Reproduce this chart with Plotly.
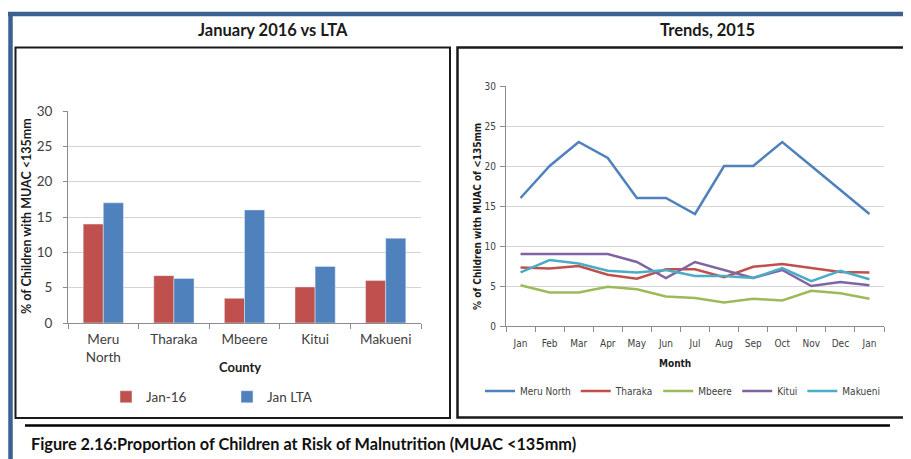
import plotly.graph_objects as go

# The page body has an 8px margin, so the figure is drawn 8px in from the
# top-left corner; reference pixel positions are converted accordingly.
OFF = 8
W, H = 911 - OFF, 459 - OFF

# ---------------- data ----------------
counties = ["Meru<br>North", "Tharaka", "Mbeere", "Kitui", "Makueni"]
jan16 = [14.0, 6.7, 3.5, 5.1, 6.0]
jan_lta = [17.0, 6.3, 16.0, 8.0, 12.0]

months = ["Jan", "Feb", "Mar", "Apr", "May", "Jun", "Jul", "Aug", "Sep", "Oct", "Nov", "Dec", "Jan"]
meru_north = [16, 20, 23, 21, 16, 16, 14, 20, 20, 23, 20, 17, 14]
tharaka = [7.3, 7.2, 7.5, 6.4, 5.9, 7.1, 7.1, 6.1, 7.4, 7.75, 7.25, 6.75, 6.7]
mbeere = [5.1, 4.2, 4.2, 4.9, 4.6, 3.7, 3.5, 2.95, 3.4, 3.2, 4.4, 4.1, 3.4]
kitui = [9, 9, 9, 9, 8, 6, 8, 7, 6, 7, 5, 5.5, 5.1]
makueni = [6.7, 8.25, 7.8, 6.9, 6.7, 7.0, 6.25, 6.25, 6.0, 7.25, 5.6, 6.9, 5.85]

y_ticks = [0, 5, 10, 15, 20, 25, 30]

# ---------------- helpers (window pixel -> paper) ----------------
def px(x):
    return (x - OFF) / W

def py(y):
    return 1 - (y - OFF) / H

FONT = "Lato, 'Open Sans', sans-serif"
NARROW = "'Liberation Sans Narrow', 'DejaVu Sans Condensed', 'Arial Narrow', sans-serif"
GRID = "#D4D4D4"
AXIS = "#8C8C8C"
TXT = "#404040"

RED = "#C0504D"
BLUE = "#4F81BD"
GREEN = "#9BBB59"
PURPLE = "#8064A2"
CYAN = "#4BACC6"

fig = go.Figure()

fig.add_trace(go.Bar(x=counties, y=jan16, name="Jan-16", marker_color=RED,
                     xaxis="x", yaxis="y", legend="legend"))
fig.add_trace(go.Bar(x=counties, y=jan_lta, name="Jan LTA", marker_color=BLUE,
                     xaxis="x", yaxis="y", legend="legend"))

xi = list(range(len(months)))
for name, vals, col in [("Meru North", meru_north, BLUE), ("Tharaka", tharaka, RED),
                        ("Mbeere", mbeere, GREEN), ("Kitui", kitui, PURPLE),
                        ("Makueni", makueni, CYAN)]:
    fig.add_trace(go.Scatter(x=xi, y=vals, name=name, mode="lines",
                             line=dict(color=col, width=2.5),
                             xaxis="x2", yaxis="y2", legend="legend2"))

shapes = [
    # blue page frame
    dict(type="line", xref="paper", yref="paper", x0=px(8), x1=px(915), y0=py(14), y1=py(14),
         line=dict(color="#3B6193", width=4.5)),
    dict(type="line", xref="paper", yref="paper", x0=px(10.5), x1=px(10.5), y0=py(12), y1=py(462),
         line=dict(color="#3B6193", width=4.5)),
    # chart boxes
    dict(type="rect", xref="paper", yref="paper", x0=px(15.5), x1=px(450), y0=py(47.5), y1=py(418),
         line=dict(color="#1A1A1A", width=2)),
    dict(type="rect", xref="paper", yref="paper", x0=px(457.5), x1=px(918), y0=py(47.5), y1=py(417.5),
         line=dict(color="#1A1A1A", width=2.5)),
    # caption rule
    dict(type="line", xref="paper", yref="paper", x0=px(25), x1=px(890), y0=py(425.5), y1=py(425.5),
         line=dict(color="#000000", width=2.5)),
]

annotations = [
    dict(text="<b>January 2016 vs LTA</b>", x=px(273), y=py(30), xref="paper", yref="paper",
         showarrow=False, font=dict(family=FONT, size=16.5, color="#1A1A1A"), xanchor="center", yanchor="middle"),
    dict(text="<b>Trends, 2015</b>", x=px(707), y=py(30), xref="paper", yref="paper",
         showarrow=False, font=dict(family=FONT, size=16.5, color="#1A1A1A"), xanchor="center", yanchor="middle"),
    dict(text="<b>% of Children with MUAC <135mm</b>", x=px(26), y=py(216), xref="paper", yref="paper",
         showarrow=False, textangle=-90, font=dict(family=FONT, size=12.5, color="#1A1A1A"),
         xanchor="center", yanchor="middle"),
    dict(text="<b>% of Children with MUAC of <135mm</b>", x=px(478), y=py(217), xref="paper", yref="paper",
         showarrow=False, textangle=-90, font=dict(family=NARROW, size=10, color="#1A1A1A"),
         xanchor="center", yanchor="middle"),
    dict(text="<b>County</b>", x=px(240), y=py(367), xref="paper", yref="paper",
         showarrow=False, font=dict(family=FONT, size=13, color="#1A1A1A"), xanchor="center", yanchor="middle"),
    dict(text="<b>Month</b>", x=px(675), y=py(363), xref="paper", yref="paper",
         showarrow=False, font=dict(family=NARROW, size=10, color="#1A1A1A"), xanchor="center", yanchor="middle"),
    dict(text="<b>Figure 2.16:Proportion of Children at Risk of Malnutrition (MUAC <135mm)</b>",
         x=px(29), y=py(443), xref="paper", yref="paper", showarrow=False,
         font=dict(family=FONT, size=16.3, color="#111111"), xanchor="left", yanchor="middle"),
]

fig.update_layout(
    width=W, height=H,
    margin=dict(l=0, r=0, t=0, b=0, pad=0, autoexpand=False),
    paper_bgcolor="white", plot_bgcolor="white",
    font=dict(family=FONT, color=TXT),
    barmode="group", bargap=0.43, bargroupgap=0,
    shapes=shapes, annotations=annotations,
    xaxis=dict(domain=[px(68), px(421)], anchor="y", type="category", automargin=False,
               tickson="boundaries", ticks="outside", ticklen=5, tickcolor=AXIS,
               showline=True, linecolor=AXIS, linewidth=1, showgrid=False,
               tickfont=dict(family=FONT, size=13.5, color=TXT), ticklabelstandoff=4),
    yaxis=dict(domain=[py(323), py(111)], anchor="x", range=[0, 30], tickvals=y_ticks, automargin=False,
               showgrid=True, gridcolor=GRID, gridwidth=1, zeroline=False,
               showline=True, linecolor=AXIS, ticks="outside", ticklen=4, tickcolor=AXIS,
               ticklabelstandoff=8,
               tickfont=dict(family=FONT, size=13.5, color=TXT)),
    xaxis2=dict(domain=[px(506), px(884)], anchor="y2", range=[-0.5, 12.5], automargin=False,
                tickvals=xi, ticktext=months, ticks="", showgrid=False,
                showline=True, linecolor=AXIS, linewidth=1, zeroline=False,
                minor=dict(tickvals=[i - 0.5 for i in range(len(months) + 1)], ticks="outside",
                           ticklen=5, tickcolor=AXIS, showgrid=False),
                tickfont=dict(family=NARROW, size=10, color=TXT), ticklabelstandoff=8),
    yaxis2=dict(domain=[py(326), py(86)], anchor="x2", range=[0, 30], tickvals=y_ticks, automargin=False,
                showgrid=True, gridcolor=GRID, gridwidth=1, zeroline=False,
                showline=True, linecolor=AXIS, ticks="outside", ticklen=5, tickcolor=AXIS,
                ticklabelstandoff=2,
                tickfont=dict(family=NARROW, size=10, color=TXT)),
    legend=dict(orientation="h", x=px(106), y=py(397), xanchor="left", yanchor="middle",
                entrywidth=76, entrywidthmode="pixels", bgcolor="rgba(0,0,0,0)",
                font=dict(family=FONT, size=13.5, color=TXT), traceorder="normal"),
    legend2=dict(orientation="h", x=px(480), y=py(391), xanchor="left", yanchor="middle",
                 bgcolor="rgba(0,0,0,0)", traceorder="normal",
                 font=dict(family=NARROW, size=10, color=TXT)),
)

fig.write_html("out.html")
